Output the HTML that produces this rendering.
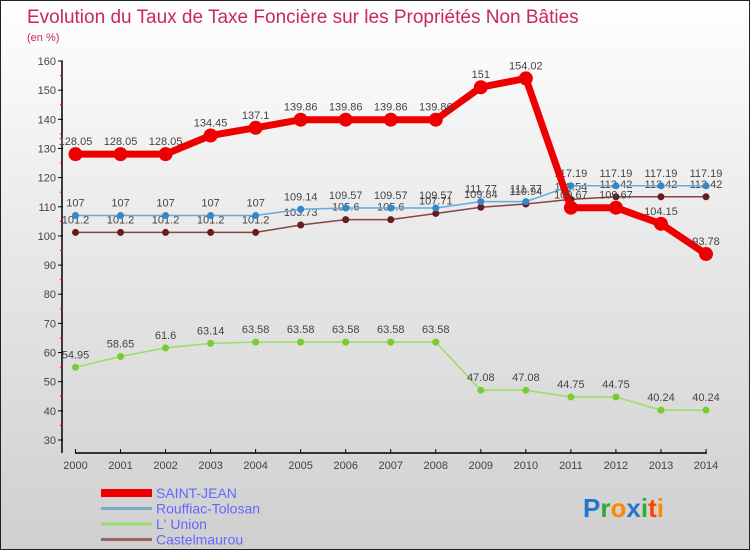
<!DOCTYPE html>
<html><head><meta charset="utf-8"><style>
body{margin:0}
#c{position:relative;width:748px;height:548px;border:1px solid #222;background:linear-gradient(#ffffff,#e8e8e8 45%,#cfcfcf);font-family:"Liberation Sans",sans-serif;overflow:hidden}
</style></head><body>
<div id="c">
<svg id="s" width="748" height="548"></svg>
</div>
<script>
const years=["2000","2001","2002","2003","2004","2005","2006","2007","2008","2009","2010","2011","2012","2013","2014"];
const saintJean=[128.05,128.05,128.05,134.45,137.1,139.86,139.86,139.86,139.86,151,154.02,109.67,109.67,104.15,93.78];
const rouffiac=[107,107,107,107,107,109.14,109.57,109.57,109.57,111.77,111.77,117.19,117.19,117.19,117.19];
const lunion=[54.95,58.65,61.6,63.14,63.58,63.58,63.58,63.58,63.58,47.08,47.08,44.75,44.75,40.24,40.24];
const castel=[101.2,101.2,101.2,101.2,101.2,103.73,105.6,105.6,107.71,109.84,110.94,112.54,113.42,113.42,113.42];
const yTicks=[30,40,50,60,70,80,90,100,110,120,130,140,150,160];
const NS="http://www.w3.org/2000/svg";
const svg=document.getElementById('s');
const X=i=>74.5+i*(705-74.5)/14;
const Y=v=>439-(v-30)*(439-60)/130;
function el(t,a){const e=document.createElementNS(NS,t);for(const k in a)e.setAttribute(k,a[k]);svg.appendChild(e);return e;}
function txt(x,y,s,a){const e=el('text',Object.assign({x:x,y:y},a));e.textContent=s;return e;}
let t=txt(26,22,"Evolution du Taux de Taxe Foncière sur les Propriétés Non Bâties",{fill:"#c8285a","font-size":"19"});


t=txt(26,40,"(en %)",{fill:"#c8285a","font-size":"11"});


let ax=el('line',{x1:61,y1:Y(160),x2:61,y2:452,stroke:"#000","stroke-width":1.5});


ax=el('line',{x1:74,y1:452,x2:706,y2:452,stroke:"#000","stroke-width":1.5});


yTicks.forEach(v=>{
 el('line',{x1:57,y1:Y(v),x2:62,y2:Y(v),stroke:"#000"});
 if(v<160)el('line',{x1:59,y1:Y(v+5),x2:62,y2:Y(v+5),stroke:"#e00"});
 const l=txt(55,Y(v)+4,String(v),{fill:"#444","font-size":"11","text-anchor":"end"});
 
 
});
years.forEach((y,i)=>{
 el('line',{x1:X(i),y1:448,x2:X(i),y2:452,stroke:"#000"});
 const l=txt(X(i),468,y,{fill:"#444","font-size":"11","text-anchor":"middle"});
 
 
});
function series(d,color,w,r,name,dot){
 const p=el('polyline',{points:d.map((v,i)=>X(i)+","+Y(v)).join(" "),fill:"none",stroke:color,"stroke-width":w,"stroke-linejoin":"round"});
 
 
 d.forEach((v,i)=>{
  const c=el('circle',{cx:X(i),cy:Y(v),r:r,fill:dot});
  
  
  const l=txt(X(i),Y(v)-9,String(v),{fill:"#444","font-size":"11","text-anchor":"middle"});
  
  
 });
}
series(lunion,"#99dd66",1.5,3.5,"lunion","#77cc33");
series(castel,"#884444",1.5,3.5,"castelmaurou","#6a1a1a");
series(rouffiac,"#66aadd",1.5,3.5,"rouffiac","#3388cc");
series(saintJean,"#ee0000",7,7,"saint-jean","#ee0000");
const leg=[["SAINT-JEAN","#ee0000",8],["Rouffiac-Tolosan","#77aacc",3],["L' Union","#99dd66",3],["Castelmaurou","#996666",3]];
leg.forEach((e,i)=>{
 const y=492+i*15.5;
 const s=el('line',{x1:100,y1:y,x2:151,y2:y,stroke:e[1],"stroke-width":e[2]});
 
 
 const l=txt(155,y+5,e[0],{fill:"#6666ff","font-size":"14"});
 
 
});
const lg=txt(582,516,"",{"font-size":"26","font-weight":"bold"});


[["P","#2277cc"],["r","#33aa33"],["o","#ff8800"],["x","#2277cc"],["i","#33aa33"],["t","#ff4400"],["i","#ff8800"]].forEach(c=>{const sp=document.createElementNS(NS,'tspan');sp.setAttribute('fill',c[1]);sp.textContent=c[0];lg.appendChild(sp);});
</script>
</body></html>
